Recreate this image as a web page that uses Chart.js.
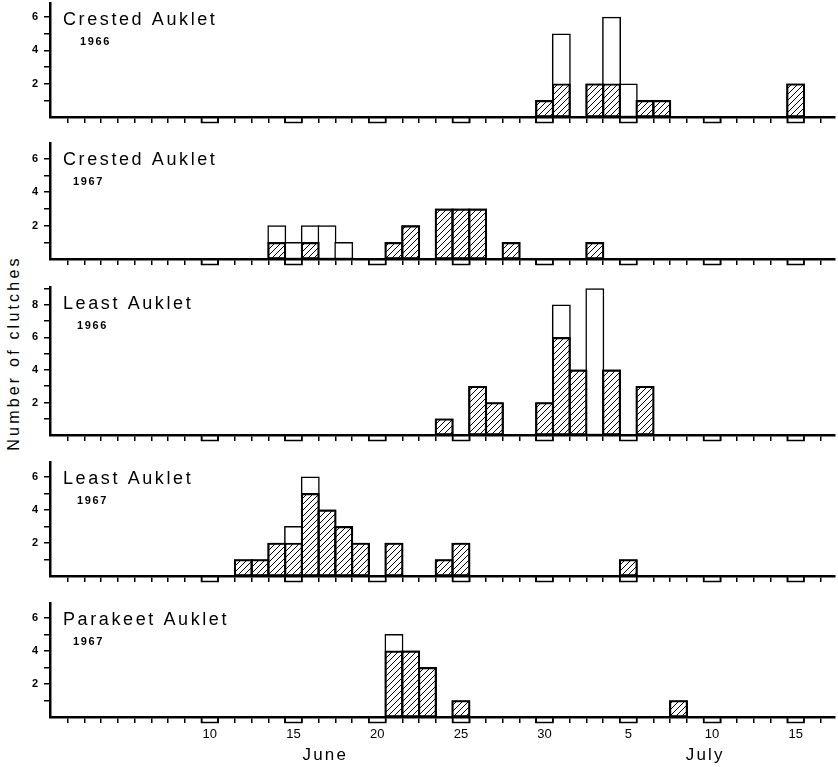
<!DOCTYPE html>
<html><head><meta charset="utf-8">
<script src="https://cdn.jsdelivr.net/npm/chart.js@4.4.1/dist/chart.umd.min.js"></script>
<style>
html,body{margin:0;padding:0;background:#fff;}
#page{position:relative;width:838px;height:767px;overflow:hidden;background:#fff;}
.panel{position:absolute;left:0;width:838px;}
#ytitle{position:absolute;left:14px;top:353px;transform:translate(-50%,-50%) rotate(-90deg);font:16px "Liberation Sans",Arial,sans-serif;letter-spacing:3.2px;white-space:nowrap;color:#000;}
</style></head><body>
<div id="page"><div id="ytitle">Number of clutches</div></div>
<script>
// ---- tick labels ----
const dayLabels = ['10','15','20','25','30','5','10','15'];
const labelDates = ['Jun 10','Jun 15','Jun 20','Jun 25','Jun 30','Jul 5','Jul 10','Jul 15'];
const monthNames = ['June','July'];

// ---- data (dates, total clutches, hatched part) ----
const crested1966Dates   = ['Jun 30','Jul 1','Jul 3','Jul 4','Jul 5','Jul 6','Jul 7','Jul 15'];
const crested1966Total   = [1,5,2,6,2,1,1,2];
const crested1966Hatched = [1,2,2,2,0,1,1,2];

const crested1967Dates   = ['Jun 14','Jun 15','Jun 16','Jun 17','Jun 18','Jun 21','Jun 22','Jun 24','Jun 25','Jun 26','Jun 28','Jul 3'];
const crested1967Total   = [2,1,2,2,1,1,2,3,3,3,1,1];
const crested1967Hatched = [1,0,1,0,0,1,2,3,3,3,1,1];

const least1966Dates   = ['Jun 24','Jun 26','Jun 27','Jun 30','Jul 1','Jul 2','Jul 3','Jul 4','Jul 6'];
const least1966Total   = [1,3,2,2,8,4,9,4,3];
const least1966Hatched = [1,3,2,2,6,4,0,4,3];

const least1967Dates   = ['Jun 12','Jun 13','Jun 14','Jun 15','Jun 16','Jun 17','Jun 18','Jun 19','Jun 21','Jun 24','Jun 25','Jul 5'];
const least1967Total   = [1,1,2,3,6,4,3,2,2,1,2,1];
const least1967Hatched = [1,1,2,2,5,4,3,2,2,1,2,1];

const parakeet1967Dates   = ['Jun 21','Jun 22','Jun 23','Jun 25','Jul 8'];
const parakeet1967Total   = [5,4,3,1,1];
const parakeet1967Hatched = [4,4,3,1,1];

const panelNames = ['Crested Auklet','Crested Auklet','Least Auklet','Least Auklet','Parakeet Auklet'];
const panelYears = ['1966','1967','1966','1967','1967'];

// day index: June 1 = 0
function dayIndex(s){ const p = s.split(' '); return p[0]==='Jun' ? (+p[1]-1) : (29 + +p[1]); }

const FONT = '"Liberation Sans", Arial, sans-serif';
const XMIN = -0.55, XMAX = 46.35;
const W = 838, YAXIS_W = 50, PAD_R = 3;
const DAY_PX = (W - YAXIS_W - PAD_R) / (XMAX - XMIN);   // width of one day on the x scale
const boundaries = []; for (let k = 0; k <= 45; k++) boundaries.push(k + 0.5);

function makeHatch(){
  const c = document.createElement('canvas'); c.width = 6; c.height = 6;
  const g = c.getContext('2d');
  g.strokeStyle = '#000'; g.lineWidth = 1;
  g.beginPath();
  g.moveTo(0,6); g.lineTo(6,0);
  g.moveTo(-1,1); g.lineTo(1,-1);
  g.moveTo(5,7); g.lineTo(7,5);
  g.stroke();
  return g.createPattern(c,'repeat');
}
const hatch = makeHatch();

const decor = {
  id: 'decor',
  afterDraw(chart, args, o){
    const ctx = chart.ctx, ca = chart.chartArea, xs = chart.scales.x;
    ctx.save();
    // notched boxes below the axis at the labelled days
    ctx.strokeStyle = '#000'; ctx.lineWidth = 1.5;
    labelDates.forEach(d => {
      const i = dayIndex(d);
      const x1 = xs.getPixelForValue(i - 0.5), x2 = xs.getPixelForValue(i + 0.5);
      ctx.strokeRect(x1, ca.bottom, x2 - x1, 5.5);
    });
    // panel title and year
    ctx.fillStyle = '#000'; ctx.textAlign = 'left'; ctx.textBaseline = 'alphabetic';
    ctx.font = '18px ' + FONT; ctx.letterSpacing = '2.6px';
    ctx.fillText(o.name, ca.left + 13, ca.top + 22);
    ctx.font = 'bold 11px ' + FONT; ctx.letterSpacing = '1.6px';
    ctx.fillText(o.year, ca.left + o.yearDx, ca.top + 42);
    if (o.months) {
      ctx.font = '17px ' + FONT; ctx.letterSpacing = '2.2px'; ctx.textAlign = 'center';
      ctx.fillText(monthNames[0], xs.getPixelForValue(15.9), ca.bottom + 43);
      ctx.fillText(monthNames[1], xs.getPixelForValue(38.6), ca.bottom + 43);
    }
    ctx.letterSpacing = '0px';
    ctx.restore();
  }
};

const panels = [
  {dates:crested1966Dates, total:crested1966Total, hatched:crested1966Hatched, top:3,   base:117, ymax:6.85, yearDx:30},
  {dates:crested1967Dates, total:crested1967Total, hatched:crested1967Hatched, top:143, base:259, ymax:6.95, yearDx:23},
  {dates:least1966Dates,   total:least1966Total,   hatched:least1966Hatched,   top:287, base:435, ymax:9.1,  yearDx:27},
  {dates:least1967Dates,   total:least1967Total,   hatched:least1967Hatched,   top:462, base:576, ymax:6.9,  yearDx:27},
  {dates:parakeet1967Dates,total:parakeet1967Total,hatched:parakeet1967Hatched,top:603, base:717, ymax:6.9,  yearDx:23}
];

const noPad = s => { s.paddingTop = 0; s.paddingBottom = 0; s.paddingLeft = 0; s.paddingRight = 0; };

const page = document.getElementById('page');
panels.forEach((p, n) => {
  const last = n === panels.length - 1;
  const div = document.createElement('div');
  div.className = 'panel';
  div.style.top = (p.top - 3) + 'px';
  const h = last ? (767 - (p.top - 3)) : (p.base - p.top + 3 + 7 + 3);
  div.style.height = h + 'px';
  const cv = document.createElement('canvas');
  div.appendChild(cv); page.appendChild(div);
  const xs = p.dates.map(dayIndex);
  const scales = {
    x: {
      type:'linear', position:'bottom', weight:0, min:XMIN, max:XMAX, offset:false,
      grid:{display:true, offset:false, drawOnChartArea:false, drawTicks:true, tickLength:6, color:'#000', lineWidth:1.5},
      border:{display:true, color:'#000', width:2.5},
      ticks:{display:false},
      afterBuildTicks: s => { s.ticks = boundaries.map(v => ({value:v})); },
      afterFit: s => { s.height = 7; noPad(s); }
    },
    y: {
      type:'linear', min:0, max:p.ymax,
      grid:{display:true, drawOnChartArea:false, drawTicks:true, tickLength:6, color:'#000', lineWidth:1.5},
      border:{display:true, color:'#000', width:2.5},
      ticks:{color:'#000', padding:6, font:{family:FONT, size:11, weight:'bold'}, callback: v => (v % 2 === 0 ? String(v) : '')},
      afterBuildTicks: s => { const t = []; for (let v = 1; v <= Math.floor(p.ymax); v++) t.push({value:v}); s.ticks = t; },
      afterFit: s => { s.width = YAXIS_W; noPad(s); }
    }
  };
  if (last) {
    scales.x2 = {
      type:'linear', position:'bottom', weight:1, min:XMIN, max:XMAX, offset:false,
      grid:{display:false, drawTicks:false, drawOnChartArea:false},
      border:{display:false},
      ticks:{autoSkip:false, maxRotation:0, minRotation:0, padding:3, color:'#000', font:{family:FONT, size:13},
             callback: (v, i) => dayLabels[i]},
      afterBuildTicks: s => { s.ticks = labelDates.map(d => ({value:dayIndex(d)})); },
      afterFit: s => { s.height = 40; noPad(s); }
    };
  }
  const barStyle = {borderColor:'#000', borderWidth:1.5, borderSkipped:false, grouped:false,
                    barThickness: DAY_PX + 1.5, xAxisID:'x', yAxisID:'y'};
  new Chart(cv, {
    type:'bar',
    data:{datasets:[
      Object.assign({label:'Hatched', data: xs.map((x,k) => ({x, y: p.hatched[k] || null})), backgroundColor:hatch}, barStyle),
      Object.assign({label:'Total',   data: xs.map((x,k) => ({x, y: p.total[k]})), backgroundColor:'#fff'}, barStyle)
    ]},
    options:{
      responsive:true, maintainAspectRatio:false, animation:false, devicePixelRatio:1,
      layout:{padding:{top:3, left:0, right:PAD_R, bottom:3}},
      plugins:{legend:{display:false}, tooltip:{enabled:false},
        decor:{name:panelNames[n], year:panelYears[n], yearDx:p.yearDx, months:last}},
      scales
    },
    plugins:[decor]
  });
});
</script>
</body></html>
